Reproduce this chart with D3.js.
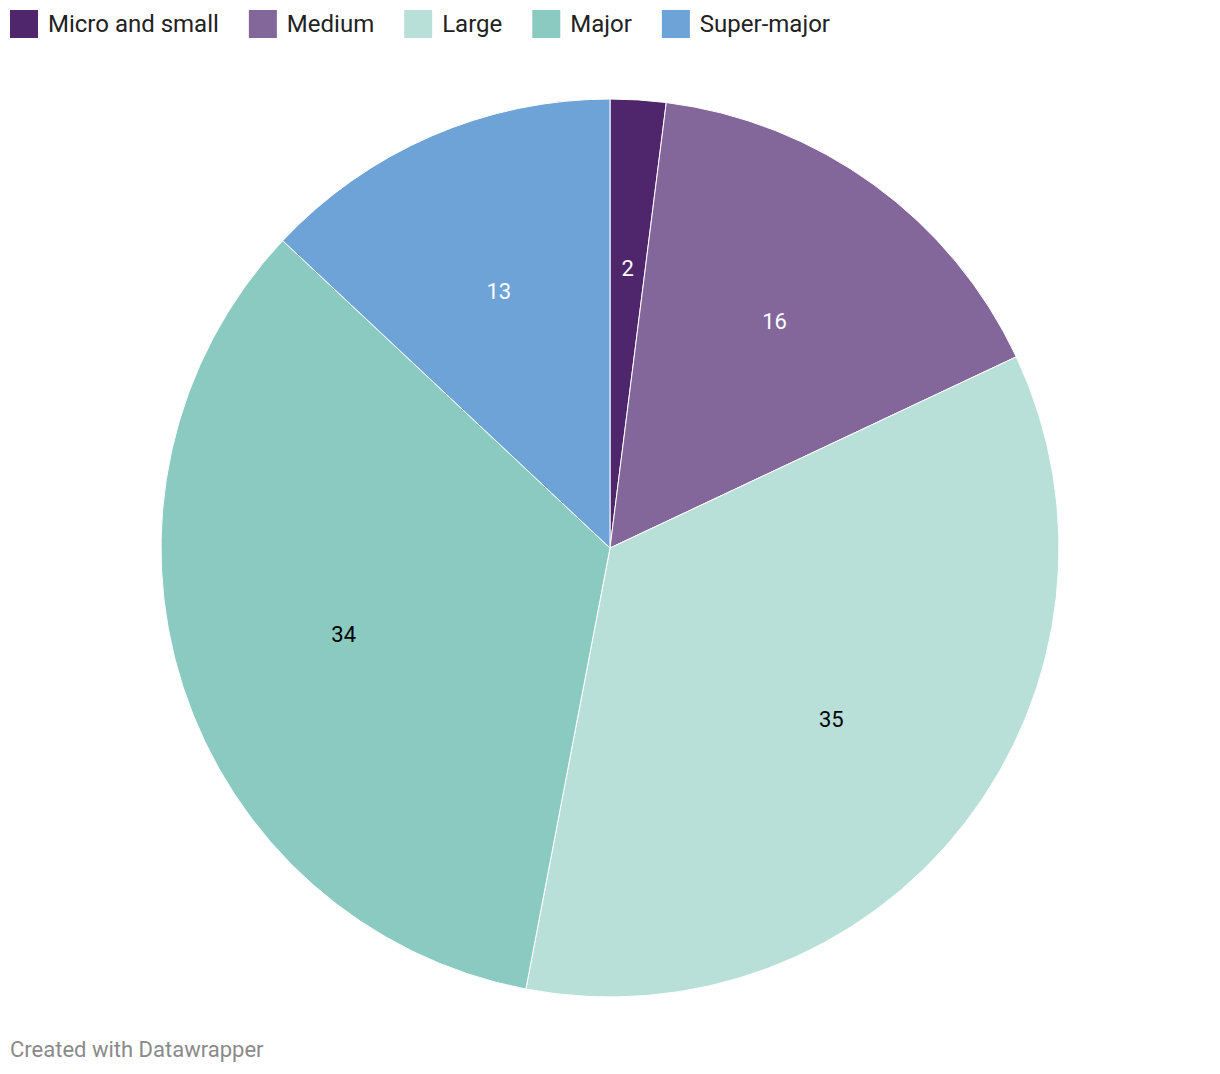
<!DOCTYPE html>
<html>
<head>
<meta charset="utf-8">
<script src="https://cdn.jsdelivr.net/npm/d3@7"></script>
<style>
  body { margin: 0; background: #fff; font-family: Roboto, "Noto Sans", sans-serif; }
</style>
</head>
<body>
<svg id="chart" width="1220" height="1074"></svg>
<script>
// data
const categories = ["Micro and small", "Medium", "Large", "Major", "Super-major"];
const values = [2, 16, 35, 34, 13];
const colors = ["#4f256b", "#84679a", "#b8e0d8", "#8bcac0", "#6ea3d8"];
const labelColors = ["#fff", "#fff", "#000", "#000", "#fff"];

const svg = d3.select("#chart");
const cx = 610, cy = 548, radius = 449;

const data = categories.map((c, i) => ({ name: c, value: values[i], color: colors[i], label: labelColors[i] }));

// legend
let lx = 10;
const legend = svg.append("g").attr("class", "legend");
data.forEach(d => {
    let g = legend.append("g").attr("transform", `translate(${lx},10)`);
    g.append("rect").attr("width", 28).attr("height", 28).attr("fill", d.color);
    let t = g.append("text")
        .attr("x", 38).attr("y", 22)
        .attr("font-size", 24)
        .attr("fill", "#222")
        .text(d.name);
    lx += 38 + t.node().getComputedTextLength() + 30;
});

// pie
const pie = d3.pie().value(d => d.value).sort(null);
const arc = d3.arc().innerRadius(0).outerRadius(radius);
const labelArc = d3.arc().innerRadius(280).outerRadius(280);

const g = svg.append("g").attr("transform", `translate(${cx},${cy})`);
const arcs = pie(data);

g.selectAll("path")
    .data(arcs)
    .enter()
    .append("path")
    .attr("d", arc)
    .attr("fill", d => d.data.color)
    .attr("stroke", "#fff")
    .attr("stroke-width", 1);

g.selectAll("text")
    .data(arcs)
    .enter()
    .append("text")
    .attr("transform", d => `translate(${labelArc.centroid(d)})`)
    .attr("text-anchor", "middle")
    .attr("dy", "0.35em")
    .attr("font-size", 22)
    .attr("fill", d => d.data.label)
    .text(d => d.data.value);

// footer
svg.append("text")
    .attr("x", 10).attr("y", 1057)
    .attr("font-size", 22)
    .attr("fill", "#8a8a8a")
    .text("Created with Datawrapper");
</script>
</body>
</html>
